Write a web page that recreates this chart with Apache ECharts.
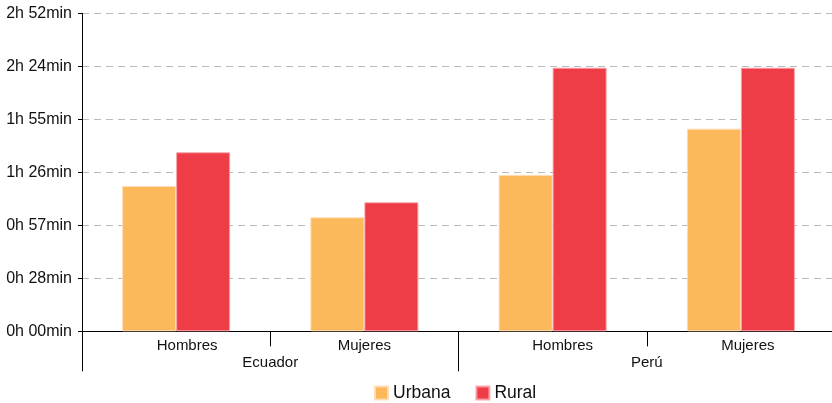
<!DOCTYPE html>
<html>
<head>
<meta charset="utf-8">
<script src="https://cdn.jsdelivr.net/npm/echarts@6/dist/echarts.min.js"></script>
<style>
html,body{margin:0;padding:0;background:#fff;overflow:hidden;}
#chart{width:840px;height:403px;}
</style>
</head>
<body>
<div id="chart"></div>
<script>
// Data (hours)
var subCategories = ['Hombres', 'Mujeres', 'Hombres', 'Mujeres'];
var countries = ['Ecuador', 'Perú'];
var seriesNames = ['Urbana', 'Rural'];
var urbanaValues = [1.316, 1.032, 1.416, 1.835];
var ruralValues = [1.621, 1.168, 2.387, 2.387];
var yMin = 0, yMax = 2.88, yInterval = 0.48;

var labelShift = [22, 0, 20, 14];
var rich = {};
labelShift.forEach(function (p, i) {
  rich['s' + i] = { padding: [0, 0, 0, p], fontSize: 15, fontFamily: 'Liberation Sans, Arial, sans-serif', color: '#111' };
});

function fmtTime(v) {
  var total = Math.floor(v * 60 + 1e-6);
  var h = Math.floor(total / 60);
  var m = total % 60;
  return h + 'h ' + (m < 10 ? '0' + m : m) + 'min';
}

var chart = echarts.init(document.getElementById('chart'), null, { renderer: 'canvas' });
var font = 'Liberation Sans, Arial, sans-serif';
chart.setOption({
  animation: false,
  backgroundColor: '#fff',
  grid: { left: 82, right: 5, top: 13.3, bottom: 71.7, containLabel: false },
  legend: {
    data: seriesNames,
    left: 369,
    top: 379,
    itemWidth: 13,
    itemHeight: 13,
    itemGap: 25,
    icon: 'rect',
    textStyle: { fontSize: 17.5, fontFamily: font, color: '#111' }
  },
  xAxis: [
    {
      type: 'category',
      data: subCategories,
      position: 'bottom',
      axisLine: { show: true, lineStyle: { color: '#000', width: 1 } },
      axisTick: { show: true, interval: 0, length: 15, lineStyle: { color: '#000' } },
      axisLabel: {
        interval: 0,
        margin: 7,
        formatter: function (v, i) { return '{s' + i + '|' + v + '}'; },
        rich: rich
      },
      splitLine: { show: false }
    },
    {
      type: 'category',
      data: countries,
      position: 'bottom',
      axisLine: { show: false },
      axisTick: { show: true, interval: 0, length: 40, lineStyle: { color: '#000' } },
      axisLabel: { interval: 0, margin: 24, fontSize: 15, fontFamily: font, color: '#111' },
      splitLine: { show: false }
    }
  ],
  yAxis: {
    type: 'value',
    min: yMin,
    max: yMax,
    interval: yInterval,
    axisLine: { show: true, lineStyle: { color: '#000', width: 1 } },
    axisTick: { show: true, length: 4, lineStyle: { color: '#000' } },
    axisLabel: { formatter: fmtTime, fontSize: 16, fontFamily: font, color: '#111', margin: 10 },
    splitLine: { show: true, lineStyle: { color: '#bbb', type: [7, 5], width: 1 } }
  },
  series: [
    {
      name: seriesNames[0],
      type: 'bar',
      xAxisIndex: 0,
      data: urbanaValues,
      barWidth: 54,
      barGap: '0%',
      itemStyle: { color: '#FBB95B', borderColor: 'rgba(255,220,180,0.9)', borderWidth: 1 }
    },
    {
      name: seriesNames[1],
      type: 'bar',
      xAxisIndex: 0,
      data: ruralValues,
      barWidth: 54,
      barGap: '0%',
      itemStyle: { color: '#EF3D47', borderColor: 'rgba(250,160,165,0.9)', borderWidth: 1 }
    }
  ]
});
</script>
</body>
</html>
